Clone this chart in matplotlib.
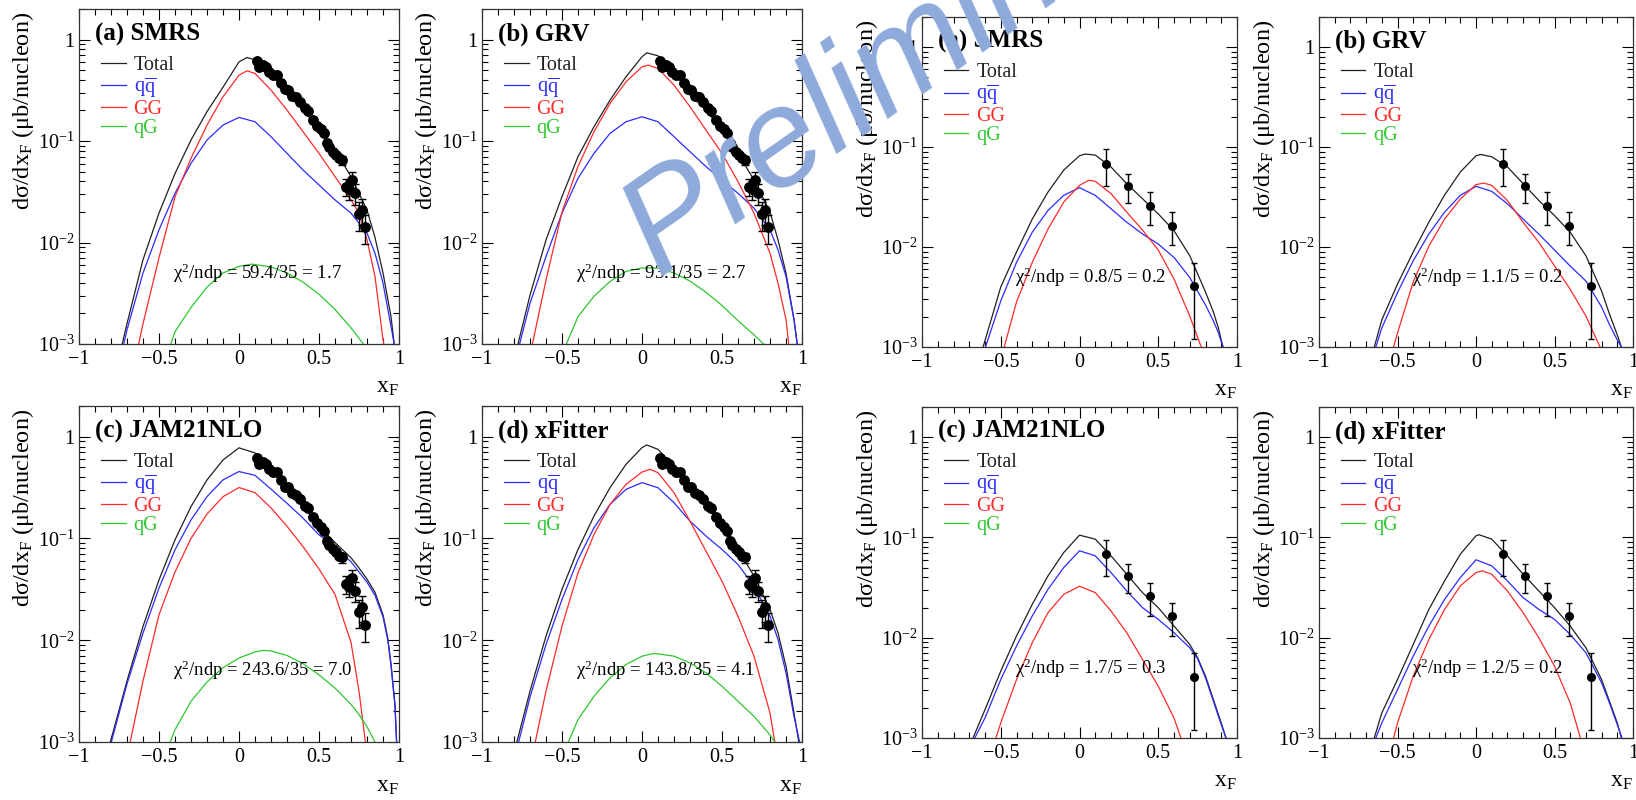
import matplotlib
matplotlib.use("Agg")
import matplotlib.pyplot as plt
from matplotlib.lines import Line2D
from matplotlib.ticker import FixedLocator, FixedFormatter, LogLocator, NullFormatter, MultipleLocator

plt.rcParams["font.family"] = ["Liberation Serif", "DejaVu Serif"]
plt.rcParams["mathtext.fontset"] = "custom"
plt.rcParams["mathtext.rm"] = "Liberation Serif"
plt.rcParams["mathtext.it"] = "Liberation Serif:italic"
plt.rcParams["mathtext.bf"] = "Liberation Serif:bold"

# measured points, left group (x_F, dsigma/dx_F, error)
data_l_x = [0.111, 0.128, 0.149, 0.170, 0.190, 0.211, 0.236, 0.261, 0.288, 0.309, 0.330,
            0.357, 0.382, 0.413, 0.434, 0.465, 0.486, 0.511, 0.532, 0.548, 0.565, 0.586,
            0.607, 0.627, 0.644, 0.669, 0.690, 0.707, 0.727, 0.748, 0.769, 0.788]
data_l_y = [0.617, 0.538, 0.560, 0.538, 0.481, 0.446, 0.446, 0.375, 0.322, 0.317, 0.277,
            0.269, 0.244, 0.210, 0.199, 0.161, 0.141, 0.130, 0.119, 0.095, 0.0867, 0.0785,
            0.0728, 0.0675, 0.065, 0.0356, 0.0335, 0.0413, 0.0306, 0.0191, 0.0210, 0.0142]
data_l_err = [0.019, 0.016, 0.017, 0.016, 0.014, 0.013, 0.013, 0.011, 0.010, 0.010, 0.008,
              0.008, 0.007, 0.006, 0.006, 0.005, 0.004, 0.004, 0.004, 0.005, 0.0045, 0.004,
              0.004, 0.0035, 0.007, 0.007, 0.007, 0.008, 0.007, 0.006, 0.006, 0.0045]

# measured points, right group
data_r_x = [0.17, 0.31, 0.45, 0.59, 0.73]
data_r_y = [0.068, 0.041, 0.026, 0.0164, 0.0041]
data_r_err = [0.027, 0.0133, 0.0095, 0.006, 0.0029]

# curves: (x_F, log10 of dsigma/dx_F)
# left (a) SMRS
la_total = [(-0.73, -3.0), (-0.7, -2.8), (-0.6, -2.17), (-0.5, -1.71), (-0.4, -1.32), (-0.3, -0.99),
            (-0.2, -0.71), (-0.1, -0.47), (0, -0.22), (0.05, -0.177), (0.1, -0.2), (0.2, -0.35),
            (0.3, -0.515), (0.4, -0.695), (0.5, -0.875), (0.6, -1.09), (0.7, -1.35), (0.8, -1.68),
            (0.85, -1.95), (0.9, -2.3), (0.95, -2.73), (0.97, -3.0)]
la_qq = [(-0.72, -3.0), (-0.7, -2.86), (-0.6, -2.30), (-0.5, -1.875), (-0.4, -1.515), (-0.3, -1.22),
         (-0.2, -0.99), (-0.1, -0.843), (0, -0.767), (0.1, -0.81), (0.2, -0.957), (0.3, -1.121),
         (0.4, -1.285), (0.5, -1.433), (0.6, -1.58), (0.7, -1.711), (0.8, -1.908), (0.85, -2.105),
         (0.9, -2.4), (0.95, -2.826), (0.97, -3.0)]
la_gg = [(-0.627, -3.0), (-0.6, -2.8), (-0.5, -2.15), (-0.4, -1.55), (-0.3, -1.17), (-0.2, -0.843),
         (-0.1, -0.564), (0, -0.351), (0.05, -0.308), (0.1, -0.334), (0.2, -0.498), (0.3, -0.695),
         (0.4, -0.908), (0.5, -1.121), (0.6, -1.351), (0.7, -1.58), (0.75, -1.711), (0.8, -1.974),
         (0.85, -2.334), (0.9, -2.957), (0.905, -3.0)]
la_qg = [(-0.426, -3.0), (-0.4, -2.88), (-0.3, -2.64), (-0.2, -2.44), (-0.1, -2.30), (0, -2.235),
         (0.08, -2.213), (0.2, -2.24), (0.3, -2.3), (0.4, -2.39), (0.5, -2.51), (0.6, -2.66),
         (0.7, -2.84), (0.777, -3.0)]

# left (b) GRV
lb_total = [(-0.775, -3.0), (-0.7, -2.52), (-0.6, -1.974), (-0.5, -1.548), (-0.4, -1.154), (-0.3, -0.859),
            (-0.2, -0.597), (-0.1, -0.367), (0, -0.17), (0.03, -0.131), (0.1, -0.16), (0.2, -0.318),
            (0.3, -0.498), (0.4, -0.695), (0.5, -0.892), (0.6, -1.121), (0.7, -1.384), (0.8, -1.70),
            (0.85, -1.974), (0.9, -2.302), (0.95, -2.76), (0.97, -3.0)]
lb_qq = [(-0.765, -3.0), (-0.7, -2.6), (-0.6, -2.138), (-0.5, -1.711), (-0.4, -1.367), (-0.3, -1.121),
         (-0.2, -0.925), (-0.1, -0.81), (0, -0.761), (0.1, -0.81), (0.2, -0.957), (0.3, -1.105),
         (0.4, -1.252), (0.5, -1.384), (0.6, -1.515), (0.7, -1.662), (0.8, -1.875), (0.85, -2.072),
         (0.9, -2.334), (0.95, -2.76), (0.97, -3.0)]
lb_gg = [(-0.685, -3.0), (-0.6, -2.37), (-0.5, -1.70), (-0.4, -1.25), (-0.3, -0.908), (-0.2, -0.63),
         (-0.1, -0.416), (0, -0.269), (0.04, -0.252), (0.1, -0.285), (0.2, -0.449), (0.3, -0.662),
         (0.4, -0.892), (0.5, -1.121), (0.6, -1.4), (0.7, -1.711), (0.8, -2.105), (0.85, -2.4),
         (0.9, -2.76), (0.917, -3.0)]
lb_qg = [(-0.473, -3.0), (-0.4, -2.73), (-0.3, -2.53), (-0.2, -2.384), (-0.1, -2.285), (0, -2.25),
         (0.1, -2.252), (0.2, -2.30), (0.3, -2.38), (0.4, -2.49), (0.5, -2.62), (0.6, -2.77),
         (0.7, -2.91), (0.76, -3.0)]

# left (c) JAM21NLO
lc_total = [(-0.804, -3.0), (-0.7, -2.4), (-0.6, -1.865), (-0.5, -1.407), (-0.4, -1.014), (-0.3, -0.687),
            (-0.2, -0.425), (-0.1, -0.229), (0, -0.11), (0.1, -0.16), (0.2, -0.31), (0.3, -0.49),
            (0.4, -0.68), (0.5, -0.88), (0.6, -1.04), (0.7, -1.19), (0.75, -1.29), (0.8, -1.40),
            (0.85, -1.53), (0.9, -1.75), (0.93, -1.98), (0.95, -2.23), (0.975, -2.63), (0.985, -3.0)]
lc_qq = [(-0.798, -3.0), (-0.7, -2.43), (-0.6, -1.93), (-0.5, -1.488), (-0.4, -1.112), (-0.3, -0.818),
         (-0.2, -0.589), (-0.1, -0.425), (0, -0.343), (0.1, -0.38), (0.2, -0.515), (0.3, -0.655),
         (0.4, -0.80), (0.5, -0.965), (0.6, -1.085), (0.7, -1.23), (0.75, -1.33), (0.8, -1.43),
         (0.85, -1.56), (0.9, -1.77), (0.93, -2.0), (0.95, -2.25), (0.975, -2.65), (0.985, -3.0)]
lc_gg = [(-0.68, -3.0), (-0.6, -2.4), (-0.5, -1.75), (-0.4, -1.33), (-0.3, -1.0), (-0.2, -0.76),
         (-0.1, -0.59), (0, -0.5), (0.1, -0.55), (0.2, -0.7), (0.3, -0.88), (0.4, -1.08),
         (0.5, -1.3), (0.6, -1.55), (0.7, -2.02), (0.75, -2.5), (0.79, -3.0)]
lc_qg = [(-0.43, -3.0), (-0.4, -2.88), (-0.3, -2.6), (-0.2, -2.41), (-0.1, -2.27), (0, -2.175),
         (0.1, -2.115), (0.15, -2.10), (0.2, -2.105), (0.3, -2.15), (0.4, -2.23), (0.5, -2.34),
         (0.6, -2.47), (0.7, -2.63), (0.75, -2.73), (0.8, -2.85), (0.85, -3.0)]

# left (d) xFitter
ld_total = [(-0.782, -3.0), (-0.7, -2.5), (-0.6, -1.96), (-0.5, -1.5), (-0.4, -1.108), (-0.3, -0.78),
            (-0.2, -0.502), (-0.1, -0.272), (0, -0.108), (0.03, -0.082), (0.1, -0.125), (0.2, -0.289),
            (0.3, -0.485), (0.4, -0.682), (0.5, -0.879), (0.6, -1.108), (0.7, -1.37), (0.8, -1.698),
            (0.85, -1.928), (0.9, -2.256), (0.95, -2.715), (0.98, -3.0)]
ld_qq = [(-0.771, -3.0), (-0.7, -2.56), (-0.6, -2.043), (-0.5, -1.6), (-0.4, -1.207), (-0.3, -0.895),
         (-0.2, -0.666), (-0.1, -0.518), (0, -0.452), (0.1, -0.502), (0.2, -0.649), (0.3, -0.83),
         (0.4, -0.977), (0.5, -1.108), (0.6, -1.256), (0.7, -1.469), (0.8, -1.764), (0.85, -1.993),
         (0.9, -2.321), (0.95, -2.748), (0.985, -3.0)]
ld_gg = [(-0.667, -3.0), (-0.6, -2.5), (-0.5, -1.862), (-0.4, -1.338), (-0.3, -0.961), (-0.2, -0.666),
         (-0.1, -0.469), (0, -0.348), (0.05, -0.321), (0.1, -0.354), (0.2, -0.551), (0.3, -0.83),
         (0.4, -1.125), (0.5, -1.42), (0.6, -1.764), (0.7, -2.157), (0.8, -2.715), (0.83, -3.0)]
ld_qg = [(-0.46, -3.0), (-0.4, -2.78), (-0.3, -2.551), (-0.2, -2.37), (-0.1, -2.239), (0, -2.157),
         (0.07, -2.131), (0.1, -2.134), (0.2, -2.157), (0.3, -2.223), (0.4, -2.321), (0.5, -2.452),
         (0.6, -2.6), (0.7, -2.748), (0.8, -2.93), (0.83, -3.0)]

# right (a) SMRS
ra_total = [(-0.612, -3.0), (-0.5, -2.4), (-0.4, -2.05), (-0.3, -1.72), (-0.2, -1.45), (-0.1, -1.23),
            (0, -1.087), (0.035, -1.07), (0.1, -1.08), (0.2, -1.2), (0.3, -1.366), (0.4, -1.517),
            (0.5, -1.668), (0.6, -1.836), (0.7, -2.087), (0.8, -2.45), (0.85, -2.65), (0.88, -2.8),
            (0.911, -3.0)]
ra_qq = [(-0.597, -3.0), (-0.5, -2.54), (-0.4, -2.154), (-0.3, -1.852), (-0.2, -1.634), (-0.1, -1.483),
         (0, -1.406), (0.1, -1.483), (0.2, -1.617), (0.3, -1.752), (0.4, -1.869), (0.5, -1.97),
         (0.6, -2.104), (0.7, -2.305), (0.8, -2.58), (0.85, -2.74), (0.88, -2.85), (0.911, -3.0)]
ra_gg = [(-0.478, -3.0), (-0.4, -2.55), (-0.3, -2.154), (-0.2, -1.82), (-0.1, -1.55), (0, -1.383),
         (0.06, -1.332), (0.1, -1.342), (0.2, -1.466), (0.3, -1.651), (0.4, -1.83), (0.5, -2.03),
         (0.6, -2.32), (0.7, -2.69), (0.773, -3.0)]

# right (b) GRV
rb_total = [(-0.648, -3.0), (-0.6, -2.73), (-0.5, -2.37), (-0.4, -2.05), (-0.3, -1.75), (-0.2, -1.48),
            (-0.1, -1.25), (0, -1.087), (0.03, -1.074), (0.1, -1.097), (0.2, -1.198), (0.3, -1.366),
            (0.4, -1.534), (0.5, -1.685), (0.6, -1.852), (0.7, -2.087), (0.8, -2.44), (0.85, -2.67),
            (0.9, -2.88), (0.926, -3.0)]
rb_qq = [(-0.638, -3.0), (-0.6, -2.81), (-0.5, -2.456), (-0.4, -2.138), (-0.3, -1.869), (-0.2, -1.651),
         (-0.1, -1.483), (0, -1.393), (0.1, -1.443), (0.2, -1.567), (0.3, -1.72), (0.4, -1.87),
         (0.5, -2.03), (0.6, -2.19), (0.7, -2.34), (0.8, -2.6), (0.85, -2.775), (0.9, -2.93),
         (0.926, -3.0)]
rb_gg = [(-0.525, -3.0), (-0.5, -2.86), (-0.4, -2.35), (-0.3, -1.99), (-0.2, -1.72), (-0.1, -1.52),
         (0, -1.376), (0.05, -1.36), (0.1, -1.383), (0.2, -1.534), (0.3, -1.752), (0.4, -1.953),
         (0.5, -2.188), (0.6, -2.423), (0.7, -2.69), (0.79, -3.0)]

# right (c) JAM21NLO
rc_total = [(-0.676, -3.0), (-0.6, -2.717), (-0.5, -2.333), (-0.4, -1.983), (-0.3, -1.667), (-0.2, -1.383),
            (-0.1, -1.15), (0, -0.977), (0.1, -1.017), (0.2, -1.183), (0.3, -1.367), (0.4, -1.55),
            (0.5, -1.7), (0.6, -1.883), (0.7, -2.067), (0.75, -2.2), (0.8, -2.383), (0.85, -2.617),
            (0.9, -2.85), (0.93, -3.0)]
rc_qq = [(-0.665, -3.0), (-0.6, -2.8), (-0.5, -2.417), (-0.4, -2.083), (-0.3, -1.783), (-0.2, -1.517),
         (-0.1, -1.3), (0, -1.133), (0.1, -1.183), (0.2, -1.35), (0.3, -1.533), (0.4, -1.7),
         (0.5, -1.817), (0.6, -1.95), (0.7, -2.1), (0.75, -2.21), (0.8, -2.4), (0.85, -2.633),
         (0.9, -2.867), (0.93, -3.0)]
rc_gg = [(-0.531, -3.0), (-0.5, -2.85), (-0.4, -2.417), (-0.3, -2.05), (-0.2, -1.75), (-0.1, -1.567),
         (0, -1.487), (0.1, -1.55), (0.2, -1.733), (0.3, -1.95), (0.4, -2.217), (0.5, -2.483),
         (0.6, -2.8), (0.644, -3.0)]

# right (d) xFitter
rd_total = [(-0.648, -3.0), (-0.6, -2.75), (-0.5, -2.417), (-0.4, -2.067), (-0.3, -1.717), (-0.2, -1.433),
            (-0.1, -1.167), (0, -0.983), (0.02, -0.973), (0.1, -1.017), (0.2, -1.183), (0.3, -1.367),
            (0.4, -1.533), (0.5, -1.7), (0.6, -1.883), (0.7, -2.1), (0.8, -2.417), (0.85, -2.633),
            (0.9, -2.85), (0.926, -3.0)]
rd_qq = [(-0.638, -3.0), (-0.6, -2.85), (-0.5, -2.517), (-0.4, -2.183), (-0.3, -1.883), (-0.2, -1.617),
         (-0.1, -1.4), (0, -1.223), (0.1, -1.283), (0.2, -1.433), (0.3, -1.6), (0.4, -1.717),
         (0.5, -1.817), (0.6, -1.967), (0.7, -2.15), (0.8, -2.45), (0.85, -2.65), (0.9, -2.867),
         (0.93, -3.0)]
rd_gg = [(-0.525, -3.0), (-0.5, -2.85), (-0.4, -2.383), (-0.3, -2.017), (-0.2, -1.717), (-0.1, -1.483),
         (0, -1.35), (0.04, -1.333), (0.1, -1.367), (0.2, -1.533), (0.3, -1.75), (0.4, -2.0),
         (0.5, -2.283), (0.6, -2.65), (0.665, -3.0)]

titles = ["(a) SMRS", "(b) GRV", "(c) JAM21NLO", "(d) xFitter"]
chi2_left = ["59.4/35 = 1.7", "93.1/35 = 2.7", "243.6/35 = 7.0", "143.8/35 = 4.1"]
chi2_right = ["0.8/5 = 0.2", "1.1/5 = 0.2", "1.7/5 = 0.3", "1.2/5 = 0.2"]
legend_labels = ["Total", r"q$\overline{\rm q}$", "GG", "qG"]
colors = ["#202020", "#2b2bff", "#ff2a2a", "#2ec82e"]

x_ticks = [-1, -0.5, 0, 0.5, 1]
x_ticklabels = ["\u22121", "\u22120.5", "0", "0.5", "1"]
y_ticks = [1e-3, 1e-2, 1e-1, 1]
y_ticklabels = [r"$10^{-3}$", r"$10^{-2}$", r"$10^{-1}$", "1"]

W, H = 1636, 800
# pixel boxes (left, right, top, bottom)
boxes_left = [(79, 399, 9, 344), (482, 802, 9, 344), (79, 399, 406, 742), (482, 802, 406, 742)]
boxes_right = [(922, 1237, 17, 347), (1319, 1633, 17, 347), (922, 1237, 407, 738), (1319, 1633, 407, 738)]

curves_left = [[la_total, la_qq, la_gg, la_qg], [lb_total, lb_qq, lb_gg, lb_qg],
               [lc_total, lc_qq, lc_gg, lc_qg], [ld_total, ld_qq, ld_gg, ld_qg]]
curves_right = [[ra_total, ra_qq, ra_gg], [rb_total, rb_qq, rb_gg],
                [rc_total, rc_qq, rc_gg], [rd_total, rd_qq, rd_gg]]

fig = plt.figure(figsize=(W / 100, H / 100), dpi=100)


def panel(box, title, curves, chi2, dx, dy, derr, ms, cap):
    l, r, t, b = box
    ax = fig.add_axes([l / W, 1 - b / H, (r - l) / W, (b - t) / H])
    for pts, col in zip(curves, colors):
        ax.plot([p[0] for p in pts], [10 ** p[1] for p in pts], color=col, lw=0.9)
    ax.errorbar(dx, dy, yerr=derr, fmt="o", color="black", ms=ms, capsize=cap,
                elinewidth=1.0, capthick=1.0, zorder=5)
    ax.set_yscale("log")
    ax.set_xlim(-1, 1)
    ax.set_ylim(1e-3, 2)
    ax.xaxis.set_major_locator(FixedLocator(x_ticks))
    ax.xaxis.set_major_formatter(FixedFormatter(x_ticklabels))
    ax.xaxis.set_minor_locator(MultipleLocator(0.1))
    ax.yaxis.set_major_locator(FixedLocator(y_ticks))
    ax.yaxis.set_major_formatter(FixedFormatter(y_ticklabels))
    ax.yaxis.set_minor_locator(LogLocator(base=10, subs=range(2, 10)))
    ax.yaxis.set_minor_formatter(NullFormatter())
    ax.tick_params(which="both", direction="in", top=True, right=True, width=0.8, labelsize=14.5)
    ax.tick_params(which="major", length=8)
    ax.tick_params(which="minor", length=4)
    ax.tick_params(axis="x", pad=4)
    ax.tick_params(axis="y", pad=3)
    for s in ax.spines.values():
        s.set_linewidth(0.9)
        s.set_color("#333333")

    ax.text(0.05, 0.925, title, transform=ax.transAxes, fontsize=18, fontweight="bold", va="center")
    ax.text(-0.41, 10 ** -2.3, "\u03c7$^{2}$/ndp = " + chi2, fontsize=13.5, va="center")
    handles = [Line2D([], [], color=c, lw=0.9) for c in colors]
    ax.legend(handles, legend_labels, loc="upper left", bbox_to_anchor=(0.07, 0.86),
              frameon=False, fontsize=14.5, handlelength=1.2, handletextpad=0.4,
              labelspacing=0.0, borderpad=0, borderaxespad=0, labelcolor="linecolor")
    ax.text(-0.175, 0.99, "d\u03c3/dx$_{\\rm F}$ (\u03bcb/nucleon)", transform=ax.transAxes,
            rotation=90, ha="center", va="top", fontsize=17.5)
    ax.text(1.0, -0.1, r"x$_{\rm F}$", transform=ax.transAxes, ha="right", va="top", fontsize=17)
    return ax


for i in range(4):
    panel(boxes_left[i], titles[i], curves_left[i], chi2_left[i],
          data_l_x, data_l_y, data_l_err, 6.8, 2.8)
    panel(boxes_right[i], titles[i], curves_right[i], chi2_right[i],
          data_r_x, data_r_y, data_r_err, 5.5, 2.5)

fig.text(0.402, 0.655, "Preliminary", rotation=35, rotation_mode="anchor", ha="left",
         va="baseline", fontsize=100, color="#8eaadb", family="Liberation Sans", style="italic",
         zorder=20)

fig.savefig("out.png", dpi=100)
